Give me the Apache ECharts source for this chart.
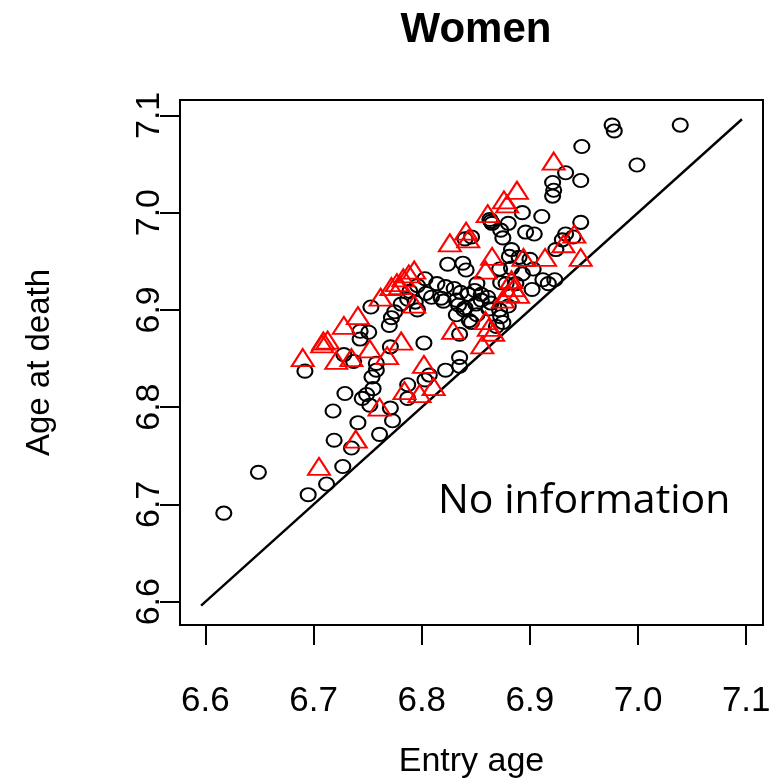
<!DOCTYPE html>
<html><head><meta charset="utf-8">
<script src="https://cdn.jsdelivr.net/npm/echarts@6/dist/echarts.min.js"></script>
<style>html,body{margin:0;padding:0;background:#fff}#c{width:775px;height:778px}</style>
</head><body><div id="c"></div>
<script>
const xTicks = [6.6, 6.7, 6.8, 6.9, 7.0, 7.1];
const yTicks = [6.6, 6.7, 6.8, 6.9, 7.0, 7.1];
const diagX = [6.596, 7.096];
const diagY = [6.596, 7.096];
const circleX = [6.976,6.978,7.039,6.948,6.999,6.933,6.947,6.921,6.922,6.921,
6.893,6.911,6.947,6.863,6.864,6.865,6.880,6.875,6.896,6.904,
6.846,6.933,6.940,6.883,6.924,6.930,6.824,6.838,6.841,6.881,
6.890,6.900,6.872,6.883,6.893,6.873,6.878,6.887,6.912,6.917,
6.923,6.902,6.803,6.814,6.822,6.830,6.851,6.796,6.809,6.818,
6.832,6.834,6.839,6.843,6.850,6.855,6.851,6.862,6.872,6.873,
6.875,6.846,6.794,6.787,6.781,6.796,6.753,6.775,6.772,6.770,
6.861,6.864,6.836,6.743,6.751,6.743,6.771,6.802,6.728,6.737,
6.758,6.758,6.754,6.755,6.749,6.745,6.752,6.835,6.869,6.835,
6.835,6.822,6.807,6.803,6.787,6.787,6.692,6.729,6.718,6.741,
6.771,6.773,6.761,6.719,6.735,6.727,6.712,6.695,6.649,6.617,
6.844,6.832,6.855,6.849,6.873,6.840,6.804,6.820,6.840,6.903,
6.789,6.880];
const circleY = [7.090,7.084,7.090,7.068,7.049,7.041,7.033,7.031,7.023,7.017,
7.000,6.996,6.990,6.993,6.991,6.989,6.989,6.974,6.980,6.978,
6.975,6.978,6.975,6.962,6.962,6.972,6.947,6.948,6.941,6.955,
6.954,6.952,6.942,6.943,6.937,6.928,6.927,6.927,6.931,6.927,
6.931,6.921,6.932,6.927,6.924,6.922,6.927,6.925,6.913,6.912,
6.910,6.905,6.900,6.916,6.906,6.916,6.895,6.901,6.900,6.893,
6.887,6.887,6.908,6.911,6.906,6.900,6.903,6.898,6.892,6.884,
6.913,6.907,6.918,6.878,6.877,6.870,6.862,6.866,6.854,6.847,
6.845,6.838,6.831,6.819,6.813,6.809,6.802,6.875,6.883,6.851,
6.842,6.838,6.833,6.828,6.823,6.809,6.837,6.814,6.796,6.784,
6.799,6.786,6.772,6.766,6.758,6.739,6.721,6.710,6.733,6.691,
6.889,6.895,6.910,6.920,6.982,6.973,6.917,6.909,6.902,6.942,
6.919,6.904];
const triX = [6.922,6.888,6.876,6.879,6.861,6.841,6.843,6.826,6.941,6.931,
6.947,6.865,6.894,6.914,6.859,6.883,6.885,6.889,6.880,6.875,
6.793,6.788,6.783,6.777,6.772,6.780,6.762,6.793,6.741,6.728,
6.709,6.713,6.708,6.752,6.690,6.721,6.735,6.768,6.781,6.829,
6.859,6.862,6.866,6.856,6.802,6.784,6.798,6.811,6.761,6.739,
6.705];
const triY = [7.053,7.023,7.013,7.009,6.999,6.981,6.973,6.969,6.978,6.968,
6.954,6.955,6.954,6.954,6.941,6.931,6.923,6.916,6.917,6.911,
6.941,6.937,6.933,6.928,6.924,6.925,6.913,6.906,6.894,6.884,
6.868,6.869,6.865,6.860,6.851,6.848,6.851,6.853,6.868,6.879,
6.889,6.882,6.877,6.864,6.844,6.817,6.814,6.821,6.800,6.767,
6.739];
const titleText = 'Women';
const xName = 'Entry age';
const yName = 'Age at death';
const noteText = 'No information';

const chart = echarts.init(document.getElementById('c'), null, {renderer: 'canvas'});
const pair = (xs, ys) => xs.map((x, i) => [x, ys[i]]);
const fmt = v => Number(v).toFixed(1);
const font = 'Liberation Sans, Arial, sans-serif';
chart.setOption({
  animation: false,
  backgroundColor: '#ffffff',
  title: {
    text: titleText, left: 471, top: 4, textAlign: 'center',
    textStyle: {fontFamily: font, fontWeight: 'bold', fontSize: 42, color: '#000'}
  },
  grid: {left: 180, right: 12, top: 100, bottom: 153, show: true, borderColor: '#000', borderWidth: 2, containLabel: false, outerBoundsMode: 'none'},
  xAxis: {
    type: 'value', min: 6.5765, max: 7.1155,
    name: xName, nameLocation: 'middle', nameGap: 120,
    nameTextStyle: {fontFamily: font, fontSize: 34, color: '#000'},
    axisLine: {show: false}, splitLine: {show: false},
    axisTick: {show: true, length: 20, customValues: xTicks, lineStyle: {color: '#000', width: 2}},
    axisLabel: {customValues: xTicks, formatter: fmt, margin: 59, fontFamily: font, fontSize: 35, color: '#000'}
  },
  yAxis: {
    type: 'value', min: 6.576, max: 7.1158,
    name: yName, nameLocation: 'middle', nameGap: 124, nameRotate: 90,
    nameTextStyle: {fontFamily: font, fontSize: 33, color: '#000'},
    axisLine: {show: false}, splitLine: {show: false},
    axisTick: {show: true, length: 20, customValues: yTicks, lineStyle: {color: '#000', width: 2}},
    axisLabel: {customValues: yTicks, formatter: fmt, rotate: 90, margin: 13, fontFamily: font, fontSize: 34, color: '#000'}
  },
  graphic: [{
    type: 'text', x: 438, y: 501, z: 100,
    style: {text: noteText, font: '41px "Open Sans"', fill: '#000', align: 'left', verticalAlign: 'middle'}
  }],
  series: [
    {type: 'line', data: pair(diagX, diagY), showSymbol: false, symbol: 'none', lineStyle: {color: '#000', width: 2.4, opacity: 1}, z: 1, silent: true},
    {type: 'scatter', data: pair(circleX, circleY), symbol: 'circle', symbolSize: [15, 13.2], z: 2,
     itemStyle: {color: 'rgba(0,0,0,0)', borderColor: '#000', borderWidth: 2, opacity: 1}, emphasis: {disabled: true}},
    {type: 'scatter', data: pair(triX, triY), symbol: 'triangle', symbolSize: [22, 17], z: 3,
     itemStyle: {color: 'rgba(0,0,0,0)', borderColor: '#ff0000', borderWidth: 2, opacity: 1}, emphasis: {disabled: true}}
  ]
});
</script>
</body></html>
